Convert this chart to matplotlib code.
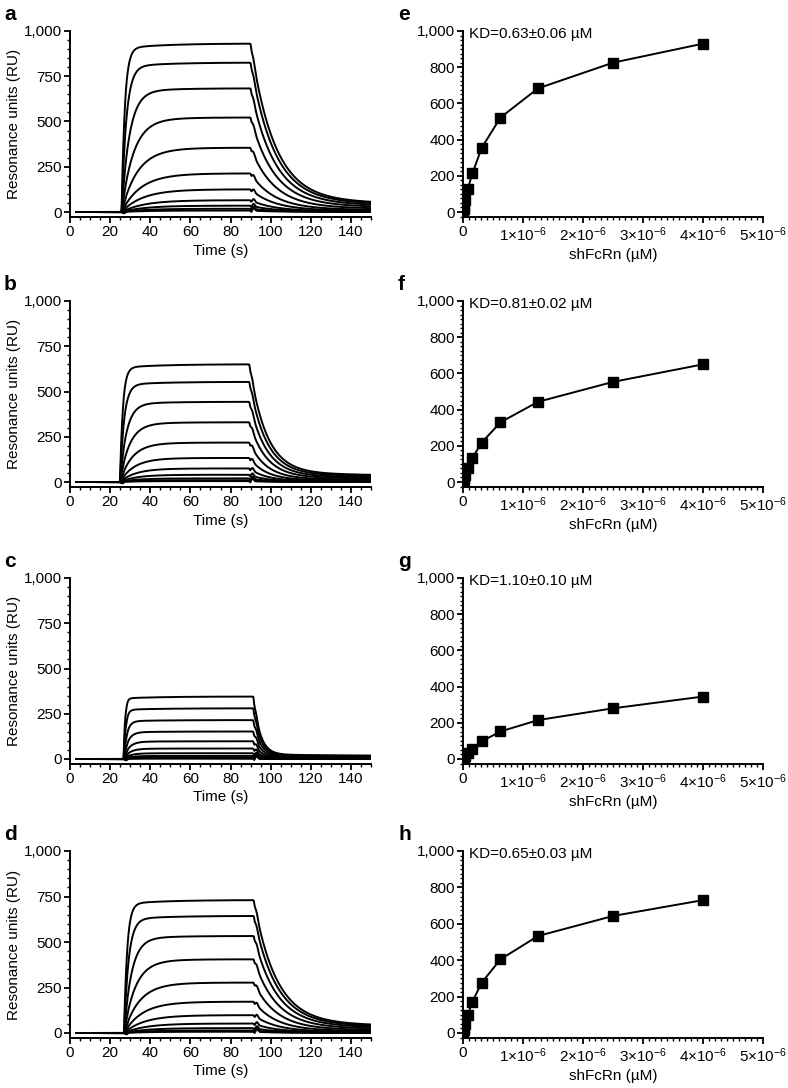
import numpy as np
import matplotlib
matplotlib.use('Agg')
import matplotlib.pyplot as plt
from matplotlib.ticker import MultipleLocator, FixedLocator, FuncFormatter

plt.rcParams['font.family'] = ['Liberation Sans', 'DejaVu Sans']
plt.rcParams['mathtext.fontset'] = 'custom'
plt.rcParams['mathtext.rm'] = 'Liberation Sans'
plt.rcParams['mathtext.it'] = 'Liberation Sans:italic'
plt.rcParams['mathtext.bf'] = 'Liberation Sans:bold'
plt.rcParams['font.size'] = 11

# shFcRn concentrations (M)
conc = np.array([4.0, 2.5, 1.25, 0.625, 0.3125, 0.156, 0.078, 0.039, 0.0195, 0.0098, 0.0049]) * 1e-6

resp_a = [930, 825, 683, 522, 355, 213, 125, 65, 35, 18, 8]
resp_b = [650, 553, 443, 330, 218, 133, 75, 40, 20, 10, 5]
resp_c = [345, 280, 215, 152, 98, 58, 32, 17, 9, 5, 2]
resp_d = [730, 643, 533, 405, 277, 172, 98, 52, 27, 14, 7]
responses = [resp_a, resp_b, resp_c, resp_d]

kd_um = [0.63, 0.81, 1.10, 0.65]
kd_err = [0.06, 0.02, 0.10, 0.03]

inj_start = [25.7, 24.9, 26.7, 26.9]
inj_stop = [90.0, 89.4, 91.4, 91.6]
off_rate = [0.085, 0.12, 0.30, 0.09]
residual = [0.07, 0.077, 0.07, 0.075]

left_letters = ['a', 'b', 'c', 'd']
right_letters = ['e', 'f', 'g', 'h']

t = np.linspace(3, 150, 1500)


def sensorgram(plateau, c_um, KD, t_on, t_off, koff, resid):
    # 1:1 binding shape scaled to the plateau
    kobs = koff * (c_um / KD + 1)
    dt = np.clip(t - t_on, 0, None)
    shape = 0.97 * (1 - np.exp(-kobs * dt)) + 0.03 * (1 - np.exp(-0.05 * dt))
    ref = 0.97 * (1 - np.exp(-kobs * (t_off - t_on))) + 0.03 * (1 - np.exp(-0.05 * (t_off - t_on)))
    r = plateau * shape / ref
    d = np.clip(t - t_off, 0, None)
    r_off = plateau * (resid * np.exp(-0.004 * d) + (1 - resid) * np.exp(-koff * d))
    r = np.where(t < t_off, r, r_off)
    # small bulk jumps at start / end of injection
    r = r - 8 * np.exp(-((t - t_on - 1.2) / 0.7) ** 2)
    r = r - 8 * np.exp(-((t - t_off - 0.4) / 0.4) ** 2) + 14 * np.exp(-((t - t_off - 1.6) / 0.8) ** 2)
    return r


W, H = 788, 1088
fig = plt.figure(figsize=(W / 100, H / 100), dpi=100)

row_top = [31, 301, 578, 851]     # pixel of y=1000
row_zero = [212, 482, 759, 1033]  # pixel of y=0


def style(ax):
    for s in ['top', 'right']:
        ax.spines[s].set_visible(False)
    for s in ['left', 'bottom']:
        ax.spines[s].set_linewidth(1.4)
    ax.tick_params(which='major', direction='out', length=4.5, width=1.3, pad=1.5, labelsize=11)
    ax.tick_params(which='minor', direction='out', length=2.5, width=1.0)


for i in range(4):
    top = row_top[i]
    zero = row_zero[i]
    bot = zero + 5
    ylo = -5 / (zero - top) * 1000

    # sensorgrams
    ax = fig.add_axes([70 / W, 1 - bot / H, 301 / W, (bot - top) / H])
    for p, c in zip(responses[i], conc):
        y = sensorgram(p, c * 1e6, kd_um[i], inj_start[i], inj_stop[i], off_rate[i], residual[i])
        ax.plot(t, y, color='black', lw=1.4)
    ax.set_xlim(0, 150)
    ax.set_ylim(ylo, 1000)
    ax.xaxis.set_major_locator(MultipleLocator(20))
    ax.xaxis.set_minor_locator(MultipleLocator(5))
    ax.yaxis.set_major_locator(FixedLocator([0, 250, 500, 750, 1000]))
    ax.yaxis.set_minor_locator(FixedLocator(np.arange(0, 1001, 50)))
    ax.yaxis.set_major_formatter(FuncFormatter(lambda v, p: '{:,.0f}'.format(v)))
    ax.set_xlabel('Time (s)', labelpad=3)
    ax.set_ylabel('Resonance units (RU)', labelpad=2)
    style(ax)
    fig.text(4 / W, 1 - (top - 26) / H, left_letters[i], weight='bold', size=15, va='top', ha='left')

    # binding isotherms
    ax2 = fig.add_axes([463 / W, 1 - bot / H, 300 / W, (bot - top) / H])
    order = np.argsort(conc)
    ax2.plot(conc[order], np.array(responses[i])[order], color='black', lw=1.4,
             marker='s', markersize=6.5, markerfacecolor='black', markeredgecolor='black')
    ax2.set_xlim(0, 5e-6)
    ax2.set_ylim(ylo, 1000)
    ax2.xaxis.set_major_locator(FixedLocator([0, 1e-6, 2e-6, 3e-6, 4e-6, 5e-6]))
    ax2.xaxis.set_minor_locator(FixedLocator(np.arange(0, 5.01e-6, 1e-7)))
    ax2.xaxis.set_major_formatter(FuncFormatter(
        lambda v, p: '0' if v == 0 else r'$%d{\times}10^{-6}$' % round(v * 1e6)))
    ax2.yaxis.set_major_locator(MultipleLocator(200))
    ax2.yaxis.set_minor_locator(MultipleLocator(25))
    ax2.yaxis.set_major_formatter(FuncFormatter(lambda v, p: '{:,.0f}'.format(v)))
    ax2.set_xlabel('shFcRn (µM)', labelpad=3)
    style(ax2)
    ax2.text(0.02, 0.985, 'KD=%.2f±%.2f µM' % (kd_um[i], kd_err[i]), transform=ax2.transAxes,
             va='center', ha='left', size=11)
    fig.text(398 / W, 1 - (top - 26) / H, right_letters[i], weight='bold', size=15, va='top', ha='left')

fig.savefig('out.png', dpi=100)
